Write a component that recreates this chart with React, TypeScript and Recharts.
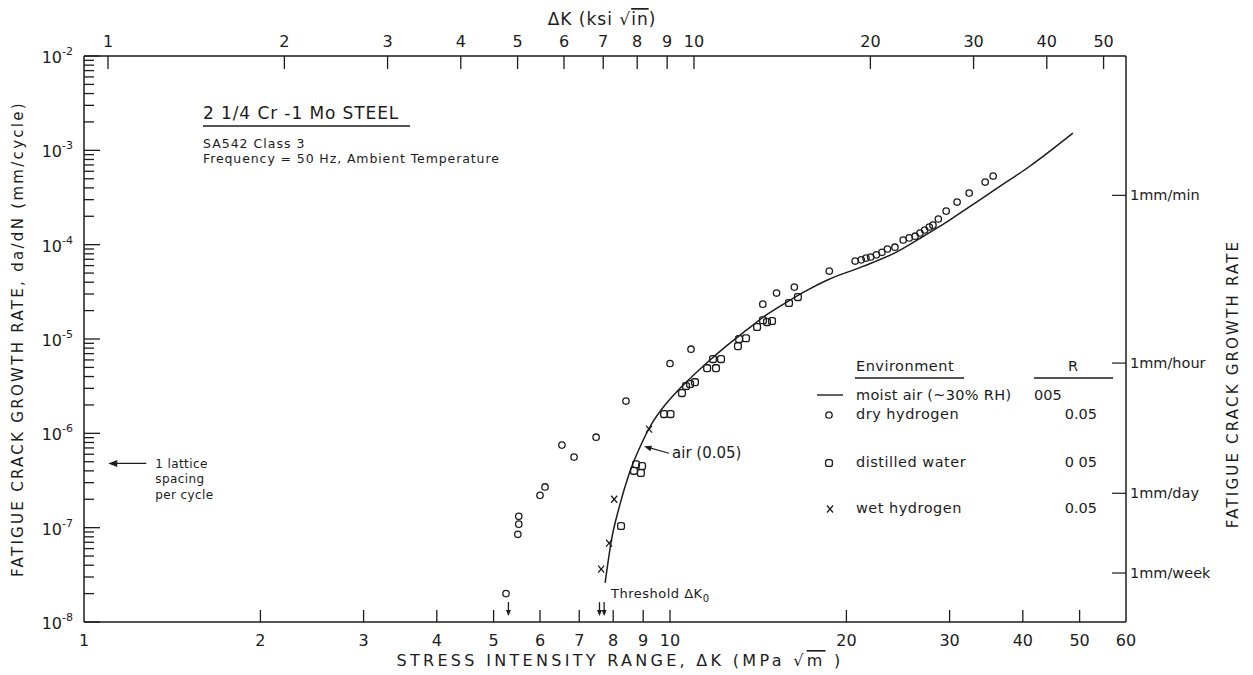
import { ComposedChart, XAxis, YAxis, Line, Scatter, Customized } from 'recharts'

const INK = '#1c1c1c'
const FONT = '"DejaVu Sans", sans-serif'

// ΔK in MPa√m, da/dN in mm/cycle, all tests at R = 0.05, 50 Hz
const airDeltaK = [7.75, 7.96, 8.18, 8.5, 8.96, 9.32, 9.84, 10.4, 11.0, 11.6, 12.5, 13.5, 14.6, 15.8, 17.0, 18.6, 21.3, 24.3, 26.6, 28.8, 30.3, 33.0, 36.0, 41.0, 48.7]
const airRate = [2.6e-8, 7.9e-8, 1.6e-7, 3.6e-7, 8.0e-7, 1.28e-6, 2.05e-6, 3.0e-6, 4.2e-6, 5.7e-6, 8.5e-6, 1.24e-5, 1.8e-5, 2.45e-5, 3.2e-5, 4.25e-5, 5.85e-5, 8.3e-5, 1.15e-4, 1.55e-4, 1.9e-4, 2.7e-4, 3.9e-4, 6.7e-4, 1.52e-3]

const dryH2DeltaK = [5.25, 5.52, 5.52, 5.5, 6.0, 6.12, 6.54, 6.86, 7.48, 8.41, 10.0, 10.86, 14.4, 15.2, 16.3, 18.7, 20.7, 21.2, 21.6, 22.0, 22.5, 23.0, 23.5, 24.2, 25.0, 25.6, 26.2, 26.7, 27.2, 27.7, 28.1, 28.7, 29.6, 30.9, 32.4, 34.5, 35.6]
const dryH2Rate = [2.0e-8, 1.32e-7, 1.09e-7, 8.5e-8, 2.2e-7, 2.7e-7, 7.5e-7, 5.6e-7, 9.1e-7, 2.2e-6, 5.5e-6, 7.8e-6, 2.34e-5, 3.07e-5, 3.55e-5, 5.25e-5, 6.7e-5, 6.9e-5, 7.2e-5, 7.4e-5, 7.8e-5, 8.3e-5, 9.0e-5, 9.4e-5, 1.12e-4, 1.18e-4, 1.23e-4, 1.33e-4, 1.43e-4, 1.54e-4, 1.61e-4, 1.87e-4, 2.27e-4, 2.83e-4, 3.52e-4, 4.61e-4, 5.34e-4]

const waterDeltaK = [8.25, 8.75, 8.96, 8.68, 8.92, 9.77, 10.02, 10.48, 10.65, 10.82, 11.03, 11.57, 11.98, 11.84, 12.22, 13.06, 13.12, 13.48, 14.08, 14.41, 14.64, 14.93, 15.96, 16.53]
const waterRate = [1.04e-7, 4.7e-7, 4.5e-7, 4.0e-7, 3.8e-7, 1.6e-6, 1.6e-6, 2.67e-6, 3.17e-6, 3.33e-6, 3.49e-6, 4.91e-6, 4.91e-6, 6.12e-6, 6.12e-6, 8.4e-6, 1.0e-5, 1.02e-5, 1.34e-5, 1.58e-5, 1.51e-5, 1.55e-5, 2.41e-5, 2.78e-5]

const wetH2DeltaK = [7.63, 7.87, 8.03, 9.21]
const wetH2Rate = [3.63e-8, 6.85e-8, 2.0e-7, 1.11e-6]

// threshold ΔK0 markers and other pointers
const thresholdDeltaK = [5.3, 7.58, 7.72]
const thresholdRate = [1.37e-8, 1.37e-8, 1.37e-8]
const latticePoint = [{ k: 1.1, v: 4.8e-7 }]
const airLabelPoint = [{ k: 9.03, v: 7.3e-7 }]

// axes
const mpaTicks = [1, 2, 3, 4, 5, 6, 7, 8, 9, 10, 20, 30, 40, 50, 60]
const ksiTicks = [1, 2, 3, 4, 5, 6, 7, 8, 9, 10, 20, 30, 40, 50]
const MPA_PER_KSI = 1.0988
const decades = [-8, -7, -6, -5, -4, -3, -2]
const minorSteps = [2, 3, 4, 5, 6, 7, 8, 9]
const rateLabels = ['1mm/min', '1mm/hour', '1mm/day', '1mm/week']
const rateTicks = [1 / 3000, 1 / 180000, 1 / 4320000, 1 / 30240000]

const K_MIN = 1
const K_MAX = 60
const RATE_MIN = 1e-8
const RATE_MAX = 1e-2

const pairs = (ks: number[], vs: number[]) => ks.map((k, i) => ({ k, v: vs[i] }))

const airData = pairs(airDeltaK, airRate)
const dryH2Data = pairs(dryH2DeltaK, dryH2Rate)
const waterData = pairs(waterDeltaK, waterRate)
const wetH2Data = pairs(wetH2DeltaK, wetH2Rate)
const thresholdData = pairs(thresholdDeltaK, thresholdRate)
// same curve in ksi√in, only so the top axis has a series bound to it
const airDataKsi = airData.map((p) => ({ k: p.k / MPA_PER_KSI, v: p.v }))

const yTicks = decades.flatMap((d) =>
  d === -2 ? [10 ** d] : [10 ** d, ...minorSteps.map((s) => s * 10 ** d)],
)

const isDecade = (v: number) => {
  const l = Math.log10(v)
  return Math.abs(l - Math.round(l)) < 1e-6
}

const CircleMark = ({ cx, cy }: any) => (
  <circle cx={cx} cy={cy} r={3.2} fill="none" stroke={INK} strokeWidth={1.3} />
)
const SquareMark = ({ cx, cy }: any) => (
  <rect x={cx - 3.4} y={cy - 3.4} width={6.8} height={6.8} rx={2.2} fill="none" stroke={INK} strokeWidth={1.3} />
)
const CrossMark = ({ cx, cy }: any) => (
  <g stroke={INK} strokeWidth={1.3}>
    <line x1={cx - 3} y1={cy - 3.5} x2={cx + 3} y2={cy + 3.5} />
    <line x1={cx + 3} y1={cy - 3.5} x2={cx - 3} y2={cy + 3.5} />
  </g>
)
const NoMark = () => <g />

const DownArrow = ({ cx, cy }: any) => (
  <g>
    <line x1={cx} y1={cy - 7} x2={cx} y2={cy + 2} stroke={INK} strokeWidth={1.3} />
    <polygon points={`${cx - 2.5},${cy + 1} ${cx + 2.5},${cy + 1} ${cx},${cy + 7}`} fill={INK} />
  </g>
)

const LatticeArrow = ({ cx, cy }: any) => (
  <g>
    <line x1={cx + 4} y1={cy} x2={cx + 38} y2={cy} stroke={INK} strokeWidth={1.4} />
    <polygon points={`${cx},${cy} ${cx + 9},${cy - 3.5} ${cx + 9},${cy + 3.5}`} fill={INK} />
    <g fontSize={12} fill={INK} style={{ letterSpacing: 0.4 }}>
      <text x={cx + 47} y={cy + 5}>1 lattice</text>
      <text x={cx + 47} y={cy + 20}>spacing</text>
      <text x={cx + 47} y={cy + 36}>per cycle</text>
    </g>
  </g>
)

const AirPointer = ({ cx, cy }: any) => (
  <g>
    <line x1={cx + 4} y1={cy + 1.2} x2={cx + 25} y2={cy + 7} stroke={INK} strokeWidth={1.2} />
    <polygon points={`${cx},${cy} ${cx + 8},${cy - 0.6} ${cx + 6.4},${cy + 5}`} fill={INK} />
    <text x={cx + 28} y={cy + 12} fontSize={15} fill={INK}>air (0.05)</text>
  </g>
)

const BottomTick = ({ x, y, payload }: any) => {
  const v = payload.value
  return (
    <g>
      {v !== K_MIN && v !== K_MAX && (
        <line x1={x} y1={y} x2={x} y2={y - 12} stroke={INK} strokeWidth={1.3} />
      )}
      <text x={x} y={y + 24} textAnchor="middle" fontSize={16} fill={INK}>{v}</text>
    </g>
  )
}

const TopTick = ({ x, y, payload }: any) => (
  <g>
    <line x1={x} y1={y} x2={x} y2={y + 13} stroke={INK} strokeWidth={1.3} />
    <text x={x} y={y - 9} textAnchor="middle" fontSize={16} fill={INK}>{payload.value}</text>
  </g>
)

const LeftTick = ({ x, y, payload }: any) => {
  const v = payload.value
  const major = isDecade(v)
  return (
    <g>
      <line x1={x} y1={y} x2={x + (major ? 16 : 10)} y2={y} stroke={INK} strokeWidth={1.3} />
      {major && (
        <text x={x - 11} y={y + 7} textAnchor="end" fill={INK} fontSize={16}>
          10<tspan dy={-8} fontSize={11}>{Math.round(Math.log10(v))}</tspan>
        </text>
      )}
    </g>
  )
}

const RightTick = ({ x, y, payload }: any) => {
  const i = rateTicks.indexOf(payload.value)
  return (
    <g>
      <line x1={x - 14} y1={y} x2={x} y2={y} stroke={INK} strokeWidth={1.2} />
      <text x={x + 4} y={y + 5} fontSize={14.5} fill={INK}>{rateLabels[i]}</text>
    </g>
  )
}

const Annotations = () => (
  <g fill={INK}>
    <text
      transform="translate(23, 339) rotate(-90)"
      textAnchor="middle"
      fontSize={15}
      style={{ letterSpacing: 2.3 }}
    >
      FATIGUE CRACK GROWTH RATE, da/dN (mm/cycle)
    </text>
    <text
      transform="translate(1238, 384) rotate(-90)"
      textAnchor="middle"
      fontSize={15}
      style={{ letterSpacing: 2.2 }}
    >
      FATIGUE CRACK GROWTH RATE
    </text>
    <text x={620} y={666} textAnchor="middle" fontSize={16} style={{ letterSpacing: 3.3 }}>
      STRESS INTENSITY RANGE, ΔK (MPa √<tspan style={{ textDecoration: 'overline' }}>m</tspan> )
    </text>
    <text x={602} y={25} textAnchor="middle" fontSize={17} style={{ letterSpacing: 1 }}>
      ΔK (ksi √<tspan style={{ textDecoration: 'overline' }}>in</tspan>)
    </text>

    <text x={203} y={119} fontSize={17} style={{ letterSpacing: 0.9 }}>2 1/4 Cr -1 Mo STEEL</text>
    <line x1={203} y1={126} x2={410} y2={126} stroke={INK} strokeWidth={1.5} />
    <text x={203} y={148} fontSize={12.5} style={{ letterSpacing: 1 }}>SA542 Class 3</text>
    <text x={203} y={163} fontSize={12.5} style={{ letterSpacing: 0.9 }}>
      Frequency = 50 Hz, Ambient Temperature
    </text>

    <text x={611} y={598} fontSize={13} style={{ letterSpacing: 0.5 }}>
      Threshold ΔK<tspan dy={4} fontSize={10}>0</tspan>
    </text>

    <g fontSize={14.5}>
      <text x={856} y={371} style={{ letterSpacing: 0.5 }}>Environment</text>
      <line x1={855} y1={378} x2={964} y2={378} stroke={INK} strokeWidth={1.3} />
      <text x={1073} y={371} textAnchor="middle">R</text>
      <line x1={1034} y1={378} x2={1113} y2={378} stroke={INK} strokeWidth={1.3} />

      <line x1={817} y1={395} x2={843} y2={395} stroke={INK} strokeWidth={1.4} />
      <text x={856} y={400} style={{ letterSpacing: 0.3 }}>moist air (~30% RH)</text>
      <text x={1034} y={400}>005</text>

      <CircleMark cx={829} cy={415} />
      <text x={856} y={419} style={{ letterSpacing: 0.5 }}>dry hydrogen</text>
      <text x={1097} y={419} textAnchor="end">0.05</text>

      <SquareMark cx={829} cy={463} />
      <text x={856} y={467} style={{ letterSpacing: 0.5 }}>distilled water</text>
      <text x={1097} y={467} textAnchor="end">0 05</text>

      <CrossMark cx={830} cy={509} />
      <text x={856} y={513} style={{ letterSpacing: 0.5 }}>wet hydrogen</text>
      <text x={1097} y={513} textAnchor="end">0.05</text>
    </g>
  </g>
)

export default function App() {
  return (
    <div style={{ position: 'absolute', left: 0, top: 0, background: '#fff', fontFamily: FONT }}>
      <ComposedChart width={1253} height={675} margin={{ top: 16, right: 27, bottom: 13, left: 24 }}>
        <XAxis
          xAxisId="bot"
          dataKey="k"
          type="number"
          scale="log"
          domain={[K_MIN, K_MAX]}
          allowDataOverflow
          ticks={mpaTicks}
          interval={0}
          height={40}
          tickSize={0}
          tickMargin={0}
          tick={<BottomTick />}
          axisLine={{ stroke: INK, strokeWidth: 1.5 }}
        />
        <XAxis
          xAxisId="top"
          dataKey="k"
          orientation="top"
          type="number"
          scale="log"
          domain={[K_MIN / MPA_PER_KSI, K_MAX / MPA_PER_KSI]}
          allowDataOverflow
          ticks={ksiTicks}
          interval={0}
          height={40}
          tickSize={0}
          tickMargin={0}
          tick={<TopTick />}
          axisLine={{ stroke: INK, strokeWidth: 1.5 }}
        />
        <YAxis
          yAxisId="left"
          dataKey="v"
          type="number"
          scale="log"
          domain={[RATE_MIN, RATE_MAX]}
          allowDataOverflow
          ticks={yTicks}
          interval={0}
          width={60}
          tickSize={0}
          tickMargin={0}
          tick={<LeftTick />}
          axisLine={{ stroke: INK, strokeWidth: 1.5 }}
        />
        <YAxis
          yAxisId="right"
          orientation="right"
          type="number"
          scale="log"
          domain={[RATE_MIN, RATE_MAX]}
          allowDataOverflow
          ticks={rateTicks}
          interval={0}
          width={100}
          tickSize={0}
          tickMargin={0}
          tick={<RightTick />}
          axisLine={{ stroke: INK, strokeWidth: 1.5 }}
        />

        <Scatter xAxisId="top" yAxisId="left" data={airDataKsi} dataKey="v" shape={NoMark} isAnimationActive={false} />
        <Line
          xAxisId="bot"
          yAxisId="left"
          data={airData}
          dataKey="v"
          type="monotone"
          stroke={INK}
          strokeWidth={1.5}
          dot={false}
          activeDot={false}
          isAnimationActive={false}
        />
        <Scatter xAxisId="bot" yAxisId="left" data={dryH2Data} dataKey="v" shape={CircleMark} isAnimationActive={false} />
        <Scatter xAxisId="bot" yAxisId="left" data={waterData} dataKey="v" shape={SquareMark} isAnimationActive={false} />
        <Scatter xAxisId="bot" yAxisId="left" data={wetH2Data} dataKey="v" shape={CrossMark} isAnimationActive={false} />
        <Scatter xAxisId="bot" yAxisId="left" data={thresholdData} dataKey="v" shape={DownArrow} isAnimationActive={false} />
        <Scatter xAxisId="bot" yAxisId="left" data={latticePoint} dataKey="v" shape={LatticeArrow} isAnimationActive={false} />
        <Scatter xAxisId="bot" yAxisId="left" data={airLabelPoint} dataKey="v" shape={AirPointer} isAnimationActive={false} />

        <Customized component={Annotations} />
      </ComposedChart>
    </div>
  )
}
